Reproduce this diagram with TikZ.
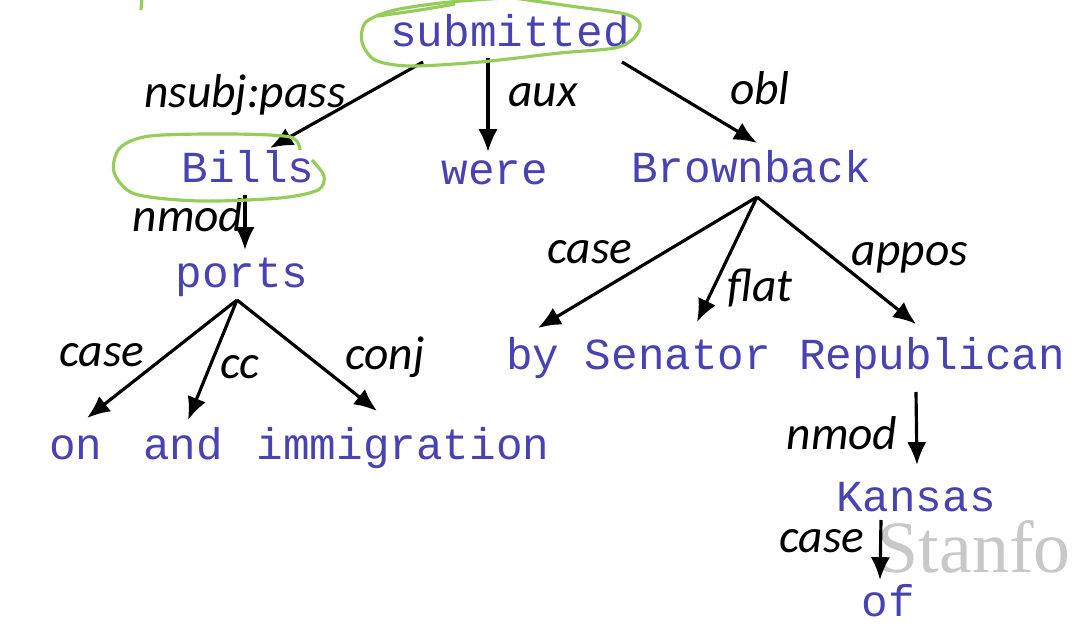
\documentclass[tikz,border=0pt]{standalone}
\usepackage{fontspec}
\newfontfamily\wordfont{Liberation Mono}
\newfontfamily\labfont{Carlito}
\newfontfamily\stanfont{Liberation Serif}
\usetikzlibrary{arrows.meta,calc}
\definecolor{wordblue}{RGB}{72,66,178}
\definecolor{pengreen}{RGB}{150,205,90}
\definecolor{markgray}{RGB}{200,200,200}
\tikzset{
  word/.style={inner sep=0pt,anchor=base,text=wordblue,font=\wordfont\fontsize{12.6}{15}\selectfont},
  rel/.style={inner sep=0pt,font=\labfont\itshape\fontsize{13.5}{16}\selectfont},
  dep/.style={-{Latex[length=6.5pt,width=5.5pt]},line width=0.9pt},
  pen/.style={pengreen,line width=0.9pt}
}

\begin{document}
\begin{tikzpicture}[x=0.01cm,y=-0.01cm]
\useasboundingbox (0,0) rectangle (1075,640);
\clip (0,0) rectangle (1075,640);
% watermark
\node[anchor=base west,inner sep=0pt,text=markgray,font=\stanfont\fontsize{21}{25}\selectfont] (mark) at (877,573) {Stanfo};
% words
\node[word] (submitted) at (510,47) {submitted};
\node[word] (bills) at (248,183) {Bills};
\node[word] (were) at (495,185) {were};
\node[word] (brownback) at (751,183) {Brownback};
\node[word] (ports) at (242,288) {ports};
\node[word] (on) at (76,460) {on};
\node[word] (and) at (183,460) {and};
\node[word] (immigration) at (403,460) {immigration};
\node[word] (by) at (533,370) {by};
\node[word] (senator) at (678,370) {Senator};
\node[word] (republican) at (932,370) {Republican};
\node[word] (kansas) at (916,512) {Kansas};
\node[word] (of) at (888,617) {of};
% arcs
\draw[dep] ($(submitted.base)+(-87,15)$) -- ($(bills.base)+(22,-35)$);
\draw[dep] ($(submitted.base)+(-22,11)$) -- ($(were.base)+(-7,-33)$);
\draw[dep] ($(submitted.base)+(112,15)$) -- ($(brownback.base)+(6,-40)$);
\draw[dep] ($(bills.base)+(-3,12)$) -- ($(ports.base)+(3,-38)$);
\draw[dep] ($(ports.base)+(-5,12)$) -- ($(on.base)+(11,-42)$);
\draw[dep] ($(ports.base)+(-5,12)$) -- ($(and.base)+(5,-40)$);
\draw[dep] ($(ports.base)+(-5,12)$) -- ($(immigration.base)+(-26,-49)$);
\draw[dep] ($(brownback.base)+(6,14)$) -- ($(by.base)+(5,-42)$);
\draw[dep] ($(brownback.base)+(6,14)$) -- ($(senator.base)+(19,-48)$);
\draw[dep] ($(brownback.base)+(6,14)$) -- ($(republican.base)+(-16,-46)$);
\draw[dep] ($(republican.base)+(-16,22)$) -- ($(kansas.base)+(1,-47)$);
\draw[dep] ($(kansas.base)+(-35,8)$) -- ($(of.base)+(-8,-37)$);
% labels
\node[rel] (l1) at (245,95) {nsubj:pass};
\node[rel] (l2) at (543,95) {aux};
\node[rel] (l3) at (760,88) {obl};
\node[rel] (l4) at (188,215) {nmod};
\node[rel] (l5) at (102,355) {case};
\node[rel] (l6) at (240,367) {cc};
\node[rel] (l7) at (385,357) {conj};
\node[rel] (l8) at (590,252) {case};
\node[rel] (l9) at (760,288) {flat};
\node[rel] (l10) at (910,258) {appos};
\node[rel] (l11) at (842,433) {nmod};
\node[rel] (l12) at (822,541) {case};
% pen marks
\draw[pen] (142,-2) -- (141,10);
\draw[pen] plot[smooth] coordinates {(520,-3) (450,2) (395,10) (366,22) (362,42) (375,60) (410,66) (480,62) (560,53) (615,48) (634,38) (640,24) (625,14) (570,6) (500,-4)};
\draw[pen] plot[smooth] coordinates {(378,16) (420,10) (455,4)};
\draw[pen] plot[smooth] coordinates {(300,150) (290,137) (230,134) (150,136) (120,148) (114,172) (135,194) (200,201) (280,198) (318,190) (324,176) (312,160)};
\end{tikzpicture}
\end{document}
